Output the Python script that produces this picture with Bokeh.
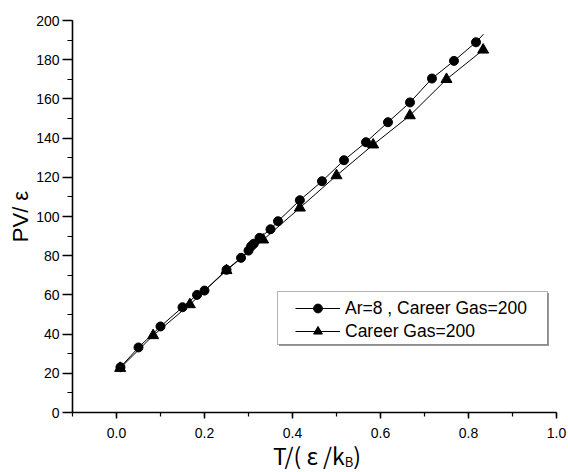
from bokeh.plotting import figure
from bokeh.models import (Range1d, SingleIntervalTicker, NumeralTickFormatter, Legend,
                          LegendItem, BoxAnnotation, Div)
from bokeh.layouts import column
from bokeh.embed import file_html
from bokeh.resources import INLINE

# Data: Ar=8, Career Gas=200 (circles)
circ_x = [0.009, 0.05, 0.10, 0.15, 0.183, 0.20, 0.25, 0.283, 0.30, 0.306, 0.312, 0.325,
          0.35, 0.367, 0.4167, 0.467, 0.517, 0.567, 0.617, 0.667, 0.717, 0.767, 0.817]
circ_y = [23.1, 33.2, 43.9, 53.7, 60.0, 62.2, 72.8, 78.9, 82.6, 84.8, 86.1, 89.1,
          93.5, 97.6, 108.3, 118.0, 128.7, 137.9, 148.1, 158.2, 170.4, 179.4, 188.9]
# the curve through the circles continues a little past the last marker
circ_tail_x = [0.834]
circ_tail_y = [193.0]

# Data: Career Gas=200 (triangles)
tri_x = [0.0083, 0.0833, 0.1667, 0.25, 0.3333, 0.4167, 0.5, 0.5833, 0.6667, 0.75, 0.8333]
tri_y = [22.6, 39.3, 55.1, 72.5, 88.1, 104.4, 120.9, 136.6, 151.5, 170.0, 185.0]

x_major = 0.2
y_major = 20
legend_labels = ["Ar=8 , Career Gas=200", "Career Gas=200"]
x_title_html = "T/( \u03b5 /k<sub style='font-size:13px;vertical-align:-2px'>B</sub>)"
y_title = "PV/ \u03b5"

W = 568
PH = 445          # figure height; the x title sits in a strip below it
FL, FB = 72, 412  # frame left / bottom in canvas pixels
p = figure(width=W, height=PH, output_backend="svg", toolbar_location=None,
           x_range=Range1d(-0.1, 1.0), y_range=Range1d(0, 200),
           min_border_left=FL, min_border_right=12, min_border_top=20,
           min_border_bottom=PH - FB)
p.outline_line_color = None
p.xgrid.visible = False
p.ygrid.visible = False
p.background_fill_color = "white"
p.border_fill_color = "white"

tick_font = "Liberation Sans"
for ax in (p.xaxis[0], p.yaxis[0]):
    ax.axis_line_color = "black"
    ax.axis_line_width = 1.6
    ax.major_tick_line_color = "black"
    ax.minor_tick_line_color = "black"
    ax.major_tick_line_width = 1.5
    ax.minor_tick_line_width = 1.2
    ax.major_tick_in = 0
    ax.minor_tick_in = 0
    ax.major_label_text_font = tick_font
    ax.major_label_text_font_size = "14px"
    ax.major_label_text_color = "black"

p.xaxis[0].major_tick_out = 6
p.xaxis[0].minor_tick_out = 4
p.xaxis[0].major_label_standoff = 9
p.yaxis[0].major_tick_out = 10
p.yaxis[0].minor_tick_out = 5
p.yaxis[0].major_label_standoff = 3
p.yaxis[0].axis_label = y_title
p.yaxis[0].axis_label_text_font = "Liberation Sans"
p.yaxis[0].axis_label_text_font_size = "22px"
p.yaxis[0].axis_label_text_font_style = "normal"
p.yaxis[0].axis_label_text_color = "black"
p.yaxis[0].axis_label_standoff = 0

p.xaxis[0].ticker = SingleIntervalTicker(interval=x_major, num_minor_ticks=2)
p.xaxis[0].formatter = NumeralTickFormatter(format="0.0")
p.yaxis[0].ticker = SingleIntervalTicker(interval=y_major, num_minor_ticks=2)

l1 = p.line(circ_x + circ_tail_x, circ_y + circ_tail_y, line_color="black", line_width=1)
s1 = p.scatter(circ_x, circ_y, marker="circle", size=9, fill_color="black", line_color="black")
l2 = p.line(tri_x, tri_y, line_color="black", line_width=1)
s2 = p.scatter(tri_x, tri_y, marker="triangle", size=11, fill_color="black", line_color="black")

# legend frame (with a light shadow) drawn as boxes in screen units
box_l, box_r, box_t, box_b = 277, 547, 291, 344
p.add_layout(BoxAnnotation(left=box_l - FL + 1.5, right=box_r - FL + 1.5,
                           top=FB - box_t - 1.5, bottom=FB - box_b - 1.5,
                           left_units="screen", right_units="screen",
                           top_units="screen", bottom_units="screen",
                           fill_color="#999999", fill_alpha=1, line_color=None))
p.add_layout(BoxAnnotation(left=box_l - FL, right=box_r - FL,
                           top=FB - box_t, bottom=FB - box_b,
                           left_units="screen", right_units="screen",
                           top_units="screen", bottom_units="screen",
                           fill_color="white", fill_alpha=1, line_color="black", line_width=1))

legend = Legend(items=[LegendItem(label=legend_labels[0], renderers=[l1, s1]),
                       LegendItem(label=legend_labels[1], renderers=[l2, s2])],
                location=(295 - FL, FB - 342))
legend.label_text_font = "Liberation Sans"
legend.label_text_font_size = "17.5px"
legend.label_text_color = "black"
legend.border_line_color = None
legend.background_fill_alpha = 0
legend.glyph_width = 45
legend.glyph_height = 22
legend.label_height = 22
legend.spacing = 1
legend.padding = 0
legend.margin = 0
legend.label_standoff = 5
p.add_layout(legend, "center")

xtitle = Div(text=x_title_html, width=W, height=472 - PH, margin=(0, 0, 0, 0),
             styles={"font-family": "'Noto Sans CJK JP', sans-serif", "font-size": "23px",
                     "line-height": "21px", "color": "black", "padding-left": "273px",
                     "white-space": "nowrap", "background-color": "white"})

layout = column(p, xtitle, spacing=0)
open("out.html", "w").write(file_html(layout, INLINE))
